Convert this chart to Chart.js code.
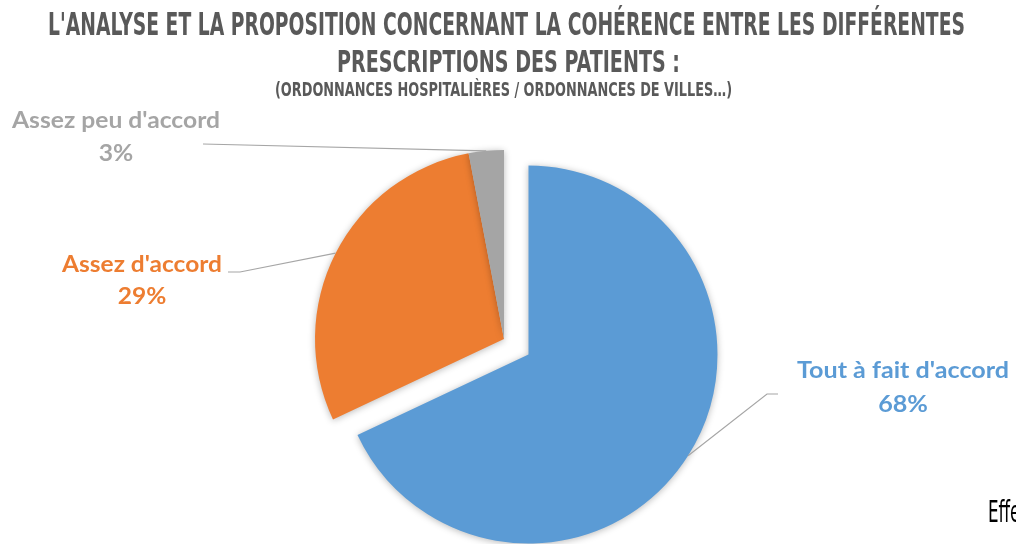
<!DOCTYPE html>
<html><head><meta charset="utf-8">
<script src="https://cdn.jsdelivr.net/npm/chart.js@4.4.1/dist/chart.umd.min.js"></script>
<style>html,body{margin:0;padding:0;background:#fff;overflow:hidden}#wrap{width:1016px;height:544px;position:relative}</style>
</head><body><div id="wrap"><canvas id="c" width="1016" height="544"></canvas></div>
<script>
// ---- data ----
const categories = ["Tout à fait d'accord", "Assez d'accord", "Assez peu d'accord"];
const values = [68, 29, 3];
const valueLabels = ["68%", "29%", "3%"];
const titleLines = [
  "L'ANALYSE ET LA PROPOSITION CONCERNANT LA COHÉRENCE ENTRE LES DIFFÉRENTES",
  "PRESCRIPTIONS DES PATIENTS :",
  "(ORDONNANCES HOSPITALIÈRES / ORDONNANCES DE VILLES…)"
];
const footnote = "Effe";

// ---- styles ----
const sliceColors = ['#5B9BD5', '#ED7D31', '#A5A5A5'];
const titleColor = '#595959';
const leaderColor = '#A6A6A6';
const titleStyle = [
  {font: 'bold 32px "DejaVu Sans Condensed", "DejaVu Sans", sans-serif', cx: 506.5, base: 35, w: 917},
  {font: 'bold 31px "DejaVu Sans Condensed", "DejaVu Sans", sans-serif', cx: 508.5, base: 72, w: 343},
  {font: 'bold 20px "DejaVu Sans Condensed", "DejaVu Sans", sans-serif', cx: 503.5, base: 96, w: 457}
];
// label placement per slice: center x, first baseline, second baseline, target width of first line, leader start points
const labelStyle = [
  {cx: 903, b1: 378, b2: 412, w: 212, leader: [[778, 394], [767, 394]]},
  {cx: 142, b1: 272, b2: 304, w: 160, leader: [[228, 272], [240, 272]]},
  {cx: 116, b1: 128, b2: 161, w: 208, leader: [[203, 144]]}
];
const labelFont = 'bold 22px Lato, "Open Sans", sans-serif';
const explodeDist = [29, 0, 0]; // slice explosion distance (px) along its bisector

// explode slices by a pure translation along the bisector (no radius growth)
const baseArcDraw = Chart.ArcElement.prototype.draw;
Chart.ArcElement.prototype.draw = function (ctx) {
  const i = this.$context ? this.$context.dataIndex : -1;
  const d = explodeDist[i] || 0;
  if (!d) return baseArcDraw.call(this, ctx);
  const mid = (this.startAngle + this.endAngle) / 2;
  ctx.save();
  ctx.translate(Math.cos(mid) * d, Math.sin(mid) * d);
  baseArcDraw.call(this, ctx);
  ctx.restore();
};

function drawFit(ctx, text, cx, base, font, targetW, color) {
  ctx.save();
  ctx.font = font;
  const w = ctx.measureText(text).width;
  const s = targetW / w;
  ctx.translate(cx, base);
  ctx.scale(s, 1);
  ctx.textAlign = 'center';
  ctx.textBaseline = 'alphabetic';
  ctx.fillStyle = color;
  ctx.fillText(text, 0, 0);
  ctx.restore();
  return s;
}

const shadowPlugin = {
  id: 'shadow',
  beforeDatasetsDraw(chart) {
    const ctx = chart.ctx;
    ctx.save();
    ctx.shadowColor = 'rgba(0,0,0,0.28)';
    ctx.shadowBlur = 7;
    ctx.shadowOffsetX = 0;
    ctx.shadowOffsetY = 1;
  },
  afterDatasetsDraw(chart) { chart.ctx.restore(); }
};

const decorPlugin = {
  id: 'decor',
  afterDraw(chart) {
    const ctx = chart.ctx;
    titleLines.forEach((t, i) => {
      const st = titleStyle[i];
      drawFit(ctx, t, st.cx, st.base, st.font, st.w, titleColor);
    });
    const meta = chart.getDatasetMeta(0);
    meta.data.forEach((arc, i) => {
      const p = arc.getProps(['x', 'y', 'startAngle', 'endAngle', 'outerRadius'], true);
      const mid = (p.startAngle + p.endAngle) / 2;
      const disp = explodeDist[i] || 0;
      const cx = p.x + Math.cos(mid) * disp;
      const cy = p.y + Math.sin(mid) * disp;
      const ex = cx + Math.cos(mid) * p.outerRadius;
      const ey = cy + Math.sin(mid) * p.outerRadius;
      const ls = labelStyle[i];
      ctx.save();
      ctx.strokeStyle = leaderColor;
      ctx.lineWidth = 1.2;
      ctx.beginPath();
      ls.leader.forEach((pt, k) => { if (k === 0) ctx.moveTo(pt[0], pt[1]); else ctx.lineTo(pt[0], pt[1]); });
      ctx.lineTo(ex, ey);
      ctx.stroke();
      ctx.restore();
      const s = drawFit(ctx, categories[i], ls.cx, ls.b1, labelFont, ls.w, sliceColors[i]);
      ctx.save();
      ctx.font = labelFont;
      ctx.fillStyle = sliceColors[i];
      ctx.textAlign = 'center';
      ctx.translate(ls.cx, ls.b2);
      ctx.scale(s, 1);
      ctx.fillText(valueLabels[i], 0, 0);
      ctx.restore();
    });
    ctx.save();
    ctx.font = '31px "DejaVu Sans Condensed", "DejaVu Sans", sans-serif';
    ctx.fillStyle = '#000';
    ctx.translate(988, 522);
    ctx.scale(0.6, 1);
    ctx.textAlign = 'left';
    ctx.fillText(footnote, 0, 0);
    ctx.restore();
  }
};

new Chart(document.getElementById('c'), {
  type: 'pie',
  data: {
    labels: categories,
    datasets: [{
      data: values,
      backgroundColor: sliceColors,
      borderWidth: 0,
      hoverOffset: 0
    }]
  },
  options: {
    responsive: false,
    animation: false,
    events: [],
    radius: 189,
    layout: {padding: {left: 0, right: 8, top: 134, bottom: 0}},
    plugins: {legend: {display: false}, tooltip: {enabled: false}, title: {display: false}}
  },
  plugins: [shadowPlugin, decorPlugin]
});
</script>
</body></html>
